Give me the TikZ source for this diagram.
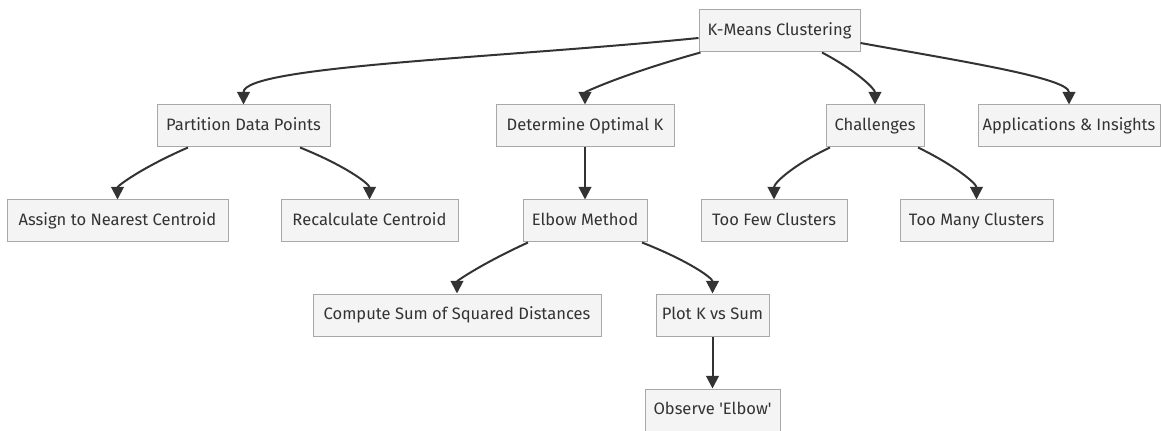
\documentclass[tikz,border=0pt]{standalone}
\usepackage{fontspec}
\setmainfont{Fira Sans}
\usetikzlibrary{arrows.meta}
\definecolor{txt}{HTML}{333333}
\definecolor{boxfill}{HTML}{F4F4F4}
\definecolor{boxline}{HTML}{A8A8A8}
\definecolor{edgec}{HTML}{333333}
\begin{document}
\begin{tikzpicture}[x=0.75pt,y=-0.75pt,
  box/.style={draw=boxline, fill=boxfill, line width=0.75pt, inner sep=0pt,
    minimum height=42*0.75pt, text height=9pt, text depth=2.4pt, text=txt,
    font=\fontsize{12.4}{14}\selectfont},
  edge/.style={draw=edgec, line width=1.5pt, -{Triangle[length=9.5pt,width=9.5pt]}}]
\fill[white] (0,0) rectangle (1161,431);
\useasboundingbox (0,0) rectangle (1161,431);
% row 0
\node[box, minimum width=161*0.75pt] (km) at (779.5,31) {K-Means Clustering};
% row 1
\node[box, minimum width=173*0.75pt] (part) at (243.5,126) {Partition Data Points};
\node[box, minimum width=178*0.75pt] (det) at (585,126) {Determine Optimal K};
\node[box, minimum width=98*0.75pt] (chal) at (875,126) {Challenges};
\node[box, minimum width=182*0.75pt] (app) at (1069,126) {Applications \& Insights};
% row 2
\node[box, minimum width=221*0.75pt] (assign) at (117.5,221) {Assign to Nearest Centroid};
\node[box, minimum width=177*0.75pt] (recalc) at (369.5,221) {Recalculate Centroid};
\node[box, minimum width=124*0.75pt] (elbow) at (585,221) {Elbow Method};
\node[box, minimum width=146*0.75pt] (few) at (774,221) {Too Few Clusters};
\node[box, minimum width=153*0.75pt] (many) at (976.5,221) {Too Many Clusters};
% row 3
\node[box, minimum width=288*0.75pt] (sum) at (457,315) {Compute Sum of Squared Distances};
\node[box, minimum width=113*0.75pt] (plot) at (712.5,315) {Plot K vs Sum};
% row 4
\node[box, minimum width=135*0.75pt] (obs) at (712.5,410) {Observe \textquotesingle Elbow\textquotesingle};
% edges
\draw[edge] ([yshift=-7*0.75pt]km.west) .. controls (500,58) and (243.5,66) .. (part.north);
\draw[edge] ([xshift=2*0.75pt]km.south west) .. controls (623,74) and (585,92) .. (det.north);
\draw[edge] ([xshift=42.5*0.75pt]km.south) .. controls (857,71) and (875,89) .. (chal.north);
\draw[edge] ([yshift=-12*0.75pt]km.east) .. controls (960,61) and (1069,78) .. (app.north);
\draw[edge] ([xshift=-55.5*0.75pt]part.south) .. controls (141,168) and (117.5,186) .. (assign.north);
\draw[edge] ([xshift=56.5*0.75pt]part.south) .. controls (346,166) and (369.5,184) .. (recalc.north);
\draw[edge] (det.south) -- (elbow.north);
\draw[edge] ([xshift=-45*0.75pt]chal.south) .. controls (793,165) and (774,183) .. (few.north);
\draw[edge] ([xshift=43*0.75pt]chal.south) .. controls (957,166.5) and (976.5,184) .. (many.north);
\draw[edge] ([xshift=-57*0.75pt]elbow.south) .. controls (481,264) and (457,281) .. (sum.north);
\draw[edge] ([xshift=57*0.75pt]elbow.south) .. controls (689,261) and (712.5,278) .. (plot.north);
\draw[edge] (plot.south) -- (obs.north);
\end{tikzpicture}
\end{document}
